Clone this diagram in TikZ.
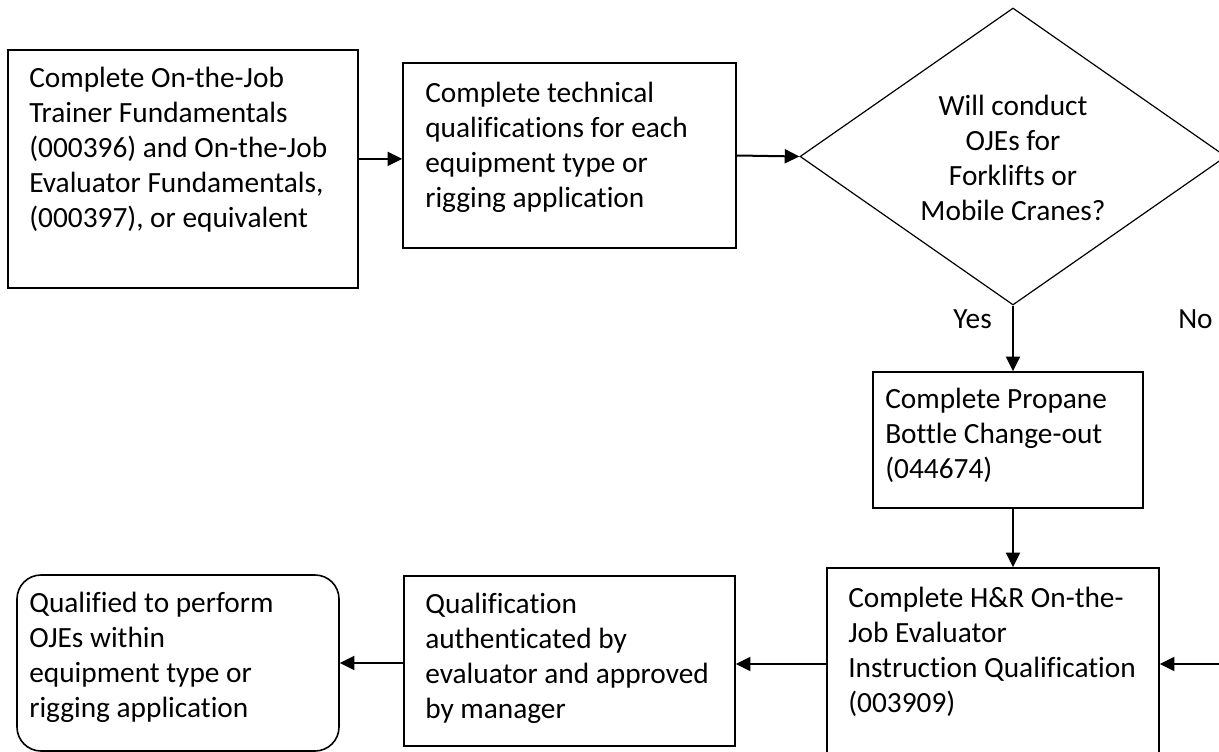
\documentclass[tikz,border=0pt]{standalone}
\usepackage{fontspec}
\setmainfont[Ligatures={NoCommon}]{Carlito}
\usetikzlibrary{shapes.geometric,arrows.meta}
\tikzset{
  flowbox/.style={draw, line width=1.2pt, inner sep=0pt},
  flowtext/.style={anchor=north west, inner sep=0pt, align=left, font=\fontsize{22}{26.25}\selectfont},
  flowlabel/.style={inner sep=0pt, font=\fontsize{22}{26.25}\selectfont},
  flowarrow/.style={line width=1.5pt, -{Triangle[length=11pt,width=10.5pt]}}
}
\begin{document}
\begin{tikzpicture}[x=0.75pt,y=0.75pt,yscale=-1,xscale=1]
\useasboundingbox (0,0) rectangle (1219,752);
\clip (0,0) rectangle (1219,752);

%Shape: Rectangle
\node [flowbox, minimum width=262.5pt, minimum height=178.5pt] (train) at (183,169) {};
%Shape: Rectangle
\node [flowbox, minimum width=249.75pt, minimum height=138.75pt] (tech) at (569.5,155.5) {};
%Shape: Diamond
\node [flowbox, diamond, line width=0.9pt, minimum width=319.5pt, minimum height=222.75pt] (ask) at (1013,156.5) {};
%Shape: Rectangle
\node [flowbox, minimum width=202.5pt, minimum height=102pt] (prop) at (1008,440) {};
%Shape: Rectangle
\node [flowbox, minimum width=249pt, minimum height=144pt] (hr) at (993,664) {};
%Shape: Rectangle
\node [flowbox, minimum width=248.25pt, minimum height=127.5pt] (qual) at (569.5,661) {};
%Shape: Rounded Rectangle
\node [flowbox, rounded corners=18pt, minimum width=241.5pt, minimum height=132pt] (done) at (178,663) {};

%Straight Lines
\draw [flowarrow] ([yshift=2.5pt]train.east |- tech.west) -- ([yshift=2.5pt]tech.west);
\draw [flowarrow] (tech.east) -- (ask.west);
\draw [flowarrow] (ask.south) -- (ask.south |- prop.north);
\draw [flowarrow] (ask.south |- prop.south) -- (ask.south |- hr.north);
\coordinate (noin) at (1235,664);
\draw [flowarrow] (noin) -- (hr.east);
\draw [flowarrow] (hr.west) -- (hr.west -| qual.east);
\draw [flowarrow] (done.east -| qual.west) -- (done.east);

% Text Node
\node [flowtext] (trainT) at (29,62.5) {\strut Complete On-the-Job\\ Trainer Fundamentals\\ (000396) and On-the-Job\\ Evaluator Fundamentals,\\ (000397), or equivalent};
% Text Node
\node [flowtext] (techT) at (425,77.5) {\strut Complete technical\\ qualifications for each\\ equipment type or\\ rigging application};
% Text Node
\node [flowtext, anchor=north, align=center] (askT) at (1013,90.5) {\strut Will conduct\\ OJEs for\\ Forklifts or\\ Mobile Cranes?};
% Text Node
\node [flowtext] (propT) at (885,383.5) {\strut Complete Propane\\ Bottle Change-out\\ (044674)};
% Text Node
\node [flowtext] (hrT) at (848,582.5) {\strut Complete H\&R On-the-\\ Job Evaluator\\ Instruction Qualification\\ (003909)};
% Text Node
\node [flowtext] (qualT) at (425,588.5) {\strut Qualification\\ authenticated by\\ evaluator and approved\\ by manager};
% Text Node
\node [flowtext] (doneT) at (29,587.5) {\strut Qualified to perform\\ OJEs within\\ equipment type or\\ rigging application};
% Text Node
\node [flowlabel, anchor=base east] (yes) at (992,328) {Yes};
% Text Node
\node [flowlabel, anchor=base west] (no) at (1178,328) {No};

\end{tikzpicture}
\end{document}
